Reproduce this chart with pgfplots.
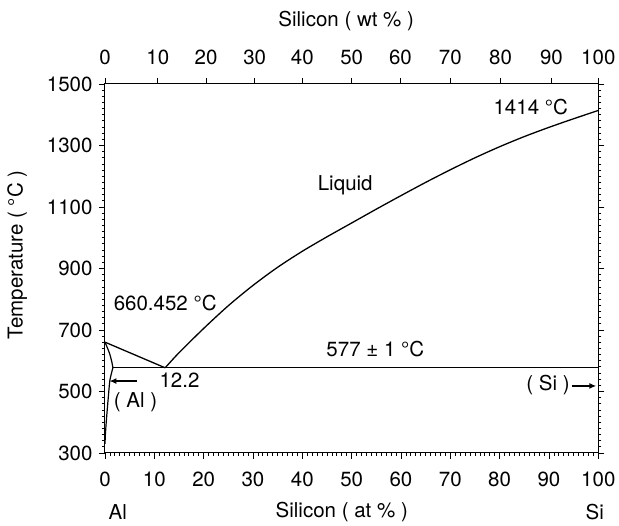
\documentclass[border=0pt]{standalone}
\usepackage{pgfplots}
\pgfplotsset{compat=1.18}
\usepackage{fontspec}
\setmainfont{TeX Gyre Heros}
\usetikzlibrary{arrows.meta}
\begin{document}
\begin{tikzpicture}
\useasboundingbox (-105pt,-73pt) rectangle (514pt,453pt);
\def\fs{\fontsize{20.5}{24}\selectfont}
\begin{axis}[
  at={(0pt,0pt)}, anchor=south west,
  scale only axis, width=493.3pt, height=369pt,
  xmin=0, xmax=100, ymin=300, ymax=1500,
  xtick={0,10,...,100},
  xticklabels={0,10,20,30,40,50,60,70,80,90,100},
  ytick={300,500,...,1500},
  yticklabels={300,500,700,900,1100,1300,1500},
  minor x tick num=9, minor y tick num=9,
  xtick pos=left, ytick pos=both, yticklabel pos=left,
  tick align=outside,
  major tick length=6pt, minor tick length=3pt,
  tick style={black, line width=0.8pt},
  axis line style={line width=1pt},
  /pgf/number format/assume math mode=true,
  ticklabel style={font=\fs},
  xticklabel style={yshift=-9pt},
  yticklabel style={xshift=-3pt},
  clip=false,
]
% Liquidus, Al side
\addplot[black, line width=1.3pt] coordinates {(0,660.452) (12.2,577)};
% Liquidus, Si side
\addplot[black, line width=1.3pt, smooth] coordinates {
(12.2,577) (15,626) (20,705) (25,779) (30,845) (35,904) (40,956) (45,1003)
(50,1048) (55,1093) (60,1137) (65,1180) (70,1221) (75,1260) (80,1296)
(85,1329) (90,1359) (95,1387) (100,1414)};
% Eutectic line
\addplot[black, line width=1.3pt] coordinates {(1.6,577) (100,577)};
% Solidus of (Al)
\addplot[black, line width=1.2pt, smooth] coordinates {(0,660.452) (0.9,625) (1.4,595) (1.6,577)};
% Solvus of (Al)
\addplot[black, line width=1.2pt, smooth] coordinates {(1.6,577) (1.0,537) (0.68,483) (0.45,440) (0.25,400) (0.08,360) (0,330)};
% arrows
\addplot[black, line width=1.6pt, -{Latex[length=7pt,width=6pt]}] coordinates {(6.5,534) (0.9,534)};
\addplot[black, line width=1.6pt, -{Latex[length=7pt,width=6pt]}] coordinates {(94.6,518) (99.6,518)};
% labels
\node[font=\fs] at (axis cs:12.2,788) {660.452 °C};
\node[font=\fs] at (axis cs:48.7,1171) {Liquid};
\node[font=\fs] at (axis cs:86.3,1426) {1414 °C};
\node[font=\fs] at (axis cs:54.8,637) {577 ± 1 °C};
\node[font=\fs] at (axis cs:15.1,535) {12.2};
\node[font=\fs] at (axis cs:6.2,465) {( Al )};
\node[font=\fs] at (axis cs:89.8,521) {( Si )};
\node[font=\fs] at (axis cs:48.0,108) {Silicon ( at \% )};
\node[font=\fs] at (axis cs:2.6,108) {Al};
\node[font=\fs] at (axis cs:99.3,108) {Si};
\node[font=\fs] at (axis cs:48.9,1706) {Silicon ( wt \% )};
\node[font=\fs, rotate=90] at (axis cs:-17.8,944) {Temperature ( °C )};
\end{axis}
\begin{axis}[
  at={(0pt,0pt)}, anchor=south west,
  scale only axis, width=493.3pt, height=369pt,
  xmin=0, xmax=100, ymin=300, ymax=1500,
  axis x line*=top, hide y axis,
  xtick={0,10.7,20.5,30.35,40,50,59.9,70,80.2,90.5,100},
  xticklabels={0,10,20,30,40,50,60,70,80,90,100},
  minor x tick num=9,
  tick align=outside,
  major tick length=6pt, minor tick length=3pt,
  tick style={black, line width=0.8pt},
  axis line style={line width=1pt},
  ticklabel style={font=\fs},
  xticklabel style={yshift=10pt},
]
\addplot[draw=none] coordinates {(0,300)};
\end{axis}
\end{tikzpicture}
\end{document}
